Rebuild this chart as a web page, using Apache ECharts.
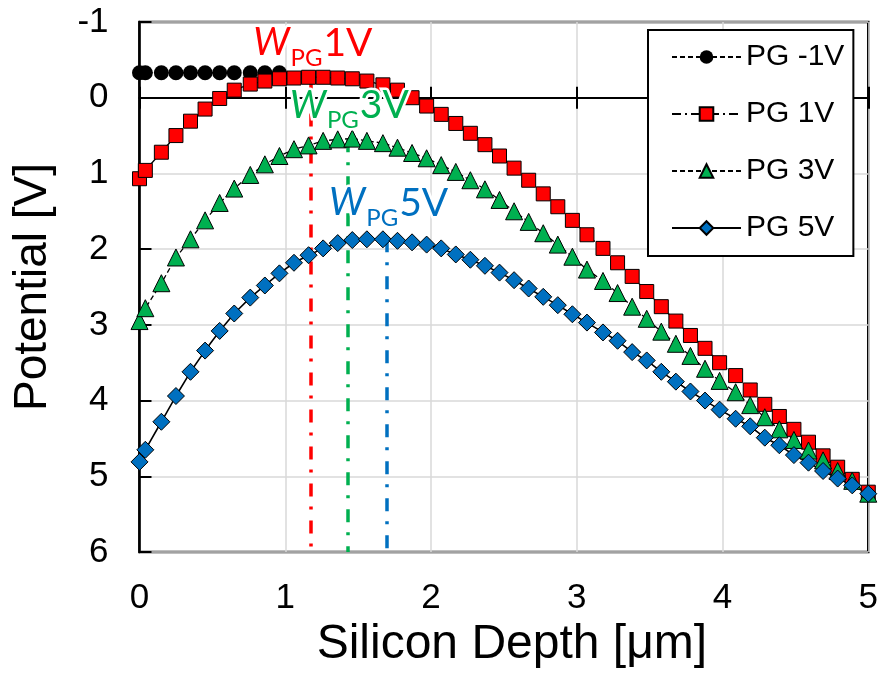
<!DOCTYPE html>
<html>
<head>
<meta charset="utf-8">
<script src="https://cdn.jsdelivr.net/npm/echarts@6/dist/echarts.min.js"></script>
<style>
  html, body { margin: 0; padding: 0; background: #fff; }
  #chart { width: 881px; height: 675px; }
</style>
</head>
<body>
<div id="chart"></div>
<script>
// ---- data ----
const depth = [0, 0.04, 0.15, 0.25, 0.35, 0.45, 0.55, 0.65, 0.76, 0.86, 0.96,
  1.06, 1.16, 1.26, 1.36, 1.46, 1.56, 1.67, 1.77, 1.87, 1.97,
  2.07, 2.17, 2.27, 2.37, 2.47, 2.57, 2.67, 2.77, 2.87, 2.97,
  3.07, 3.18, 3.28, 3.38, 3.48, 3.58, 3.68, 3.78, 3.88, 3.98,
  4.09, 4.19, 4.29, 4.39, 4.49, 4.59, 4.69, 4.79, 4.89, 5.0];

const pgMinus1V = [-0.33, -0.33, -0.33, -0.33, -0.33, -0.33, -0.33, -0.33, -0.33, -0.33, -0.33];

const pg1V = [1.07, 0.96, 0.72, 0.50, 0.31, 0.15, 0.01, -0.10, -0.18, -0.22, -0.25,
  -0.26, -0.27, -0.27, -0.26, -0.25, -0.22, -0.17, -0.10, 0.0, 0.11,
  0.22, 0.34, 0.47, 0.62, 0.77, 0.93, 1.09, 1.27, 1.44, 1.62,
  1.81, 1.99, 2.18, 2.36, 2.56, 2.76, 2.95, 3.14, 3.31, 3.50,
  3.67, 3.86, 4.05, 4.21, 4.38, 4.55, 4.73, 4.88, 5.04, 5.21];

const pg3V = [2.95, 2.78, 2.45, 2.11, 1.87, 1.62, 1.39, 1.20, 1.02, 0.88, 0.77,
  0.68, 0.63, 0.57, 0.55, 0.54, 0.57, 0.60, 0.66, 0.73, 0.80,
  0.89, 0.98, 1.09, 1.21, 1.35, 1.50, 1.64, 1.79, 1.94, 2.10,
  2.27, 2.42, 2.58, 2.76, 2.92, 3.09, 3.25, 3.41, 3.58, 3.74,
  3.89, 4.06, 4.22, 4.38, 4.52, 4.66, 4.79, 4.93, 5.06, 5.23];

const pg5V = [4.81, 4.65, 4.28, 3.94, 3.62, 3.34, 3.08, 2.85, 2.64, 2.48, 2.32,
  2.18, 2.08, 1.99, 1.92, 1.88, 1.87, 1.87, 1.89, 1.91, 1.94,
  1.99, 2.07, 2.14, 2.22, 2.31, 2.41, 2.52, 2.63, 2.74, 2.86,
  2.97, 3.10, 3.21, 3.36, 3.47, 3.62, 3.75, 3.88, 4.00, 4.12,
  4.24, 4.34, 4.49, 4.59, 4.72, 4.82, 4.93, 5.03, 5.12, 5.23];

const seriesNames = ['PG -1V', 'PG 1V', 'PG 3V', 'PG 5V'];
// W_PG markers: depth, potential at peak
const wpgDepth = [1.175, 1.43, 1.695];
const wpgPeak = [-0.28, 0.55, 1.87];
const wpgText = ['1V', '3V', '5V'];
const xTicks = [0, 1, 2, 3, 4, 5];
const yTicks = [-1, 0, 1, 2, 3, 4, 5, 6];

// ---- chart ----
const FONT = 'Liberation Sans, Arial, sans-serif';
const ANN = 'Lato, Noto Sans, sans-serif';
const colors = ['#000000', '#ff0000', '#00b050', '#0070c0'];

function pairs(vals) { return vals.map((v, i) => [depth[i], v]); }

function wLabel(color, num) {
  return {
    show: true, position: 'right', distance: 0,
    formatter: '{w|W}{s|PG}{n|' + num + '}',
    rich: {
      w: { fontFamily: ANN, fontStyle: 'italic', fontSize: 38, color: color, textBorderColor: '#fff', textBorderWidth: 5 },
      s: { fontFamily: ANN, fontSize: 24, color: color, padding: [30, 1, 0, 1], textBorderColor: '#fff', textBorderWidth: 5 },
      n: { fontFamily: ANN, fontSize: 39, color: color, textBorderColor: '#fff', textBorderWidth: 5 }
    }
  };
}

function vLine(i, color) {
  return {
    silent: true, symbol: ['none', 'none'], z: 3,
    label: { show: false },
    lineStyle: { color: color, width: 3.5, type: [13, 10, 3, 11] },
    emphasis: { disabled: true },
    data: [[{ coord: [wpgDepth[i], wpgPeak[i]] }, { coord: [wpgDepth[i], yTicks[yTicks.length - 1]] }]]
  };
}

const labelAnchors = [[0.78, -0.72], [1.03, 0.10], [1.30, 1.39]];

function wPoint(i, color) {
  return {
    silent: true, symbol: 'circle', symbolSize: 0, z: 20,
    label: wLabel(color, wpgText[i]),
    data: [{ coord: labelAnchors[i] }]
  };
}

const chart = echarts.init(document.getElementById('chart'), null, { renderer: 'canvas' });

const option = {
  animation: false,
  backgroundColor: '#fff',
  grid: {
    left: 139.5, right: 11.5, top: 22, bottom: 123,
    show: true, borderColor: '#000', borderWidth: 2.5, backgroundColor: 'transparent',
    containLabel: false
  },
  legend: {
    orient: 'vertical', left: 648, top: 30,
    data: seriesNames,
    itemWidth: 69, itemHeight: 17, itemGap: 27,
    padding: [12, 9, 13, 23],
    backgroundColor: '#fff', borderColor: '#000', borderWidth: 2,
    textStyle: { fontFamily: FONT, fontSize: 30, color: '#000' },
    selectedMode: false
  },
  xAxis: [
    {
      type: 'value', min: xTicks[0], max: xTicks[xTicks.length - 1], interval: 1,
      position: 'bottom',
      axisLine: { show: false, onZero: false },
      axisTick: { show: false },
      axisLabel: { fontFamily: FONT, fontSize: 35, color: '#000', margin: 29 },
      splitLine: { show: true, lineStyle: { color: '#d9d9d9', width: 1.5 } },
      name: 'Silicon Depth [μm]', nameLocation: 'middle', nameGap: 68,
      nameTextStyle: { fontFamily: FONT, fontSize: 48, color: '#000', padding: [0, 0, 0, 16] }
    },
    {
      type: 'value', min: xTicks[0], max: xTicks[xTicks.length - 1], interval: 1,
      position: 'top',
      axisLine: { show: true, onZero: true, onZeroAxisIndex: 0, lineStyle: { color: '#000', width: 2 } },
      axisTick: { show: true, inside: true, length: 11, lineStyle: { color: '#000', width: 2 } },
      axisLabel: { show: false },
      splitLine: { show: false }
    },
    {
      type: 'value', min: xTicks[0], max: xTicks[xTicks.length - 1], interval: 1,
      position: 'top',
      axisLine: { show: true, onZero: true, onZeroAxisIndex: 0, lineStyle: { color: '#000', width: 2 } },
      axisTick: { show: true, inside: false, length: 11, lineStyle: { color: '#000', width: 2 } },
      axisLabel: { show: false },
      splitLine: { show: false }
    }
  ],
  yAxis: {
    type: 'value', inverse: true, min: yTicks[0], max: yTicks[yTicks.length - 1], interval: 1,
    axisLine: { show: true, onZero: false, lineStyle: { color: '#000', width: 2.5 } },
    axisTick: { show: true, inside: true, length: 12, lineStyle: { color: '#000', width: 2 } },
    axisLabel: { fontFamily: FONT, fontSize: 35, color: '#000', margin: 31 },
    splitLine: { show: true, lineStyle: { color: '#d9d9d9', width: 1.5 } },
    name: 'Potential [V]', nameLocation: 'middle', nameGap: 83, nameRotate: 90,
    nameTextStyle: { fontFamily: FONT, fontSize: 46, color: '#000' }
  },
  series: [
    {
      name: seriesNames[0], type: 'line', clip: false,
      data: pairs(pgMinus1V),
      symbol: 'circle', symbolSize: 15,
      itemStyle: { color: '#000', borderColor: '#000', borderWidth: 0 },
      lineStyle: { color: '#000', width: 1.3, type: [5, 3] },
      emphasis: { disabled: true }
    },
    {
      name: seriesNames[1], type: 'line', clip: false,
      data: pairs(pg1V),
      symbol: 'rect', symbolSize: 14,
      itemStyle: { color: colors[1], borderColor: '#000', borderWidth: 1 },
      lineStyle: { color: '#000', width: 1.3, type: [9, 4, 2, 4] },
      emphasis: { disabled: true },
      markLine: vLine(0, colors[1]),
      markPoint: wPoint(0, colors[1])
    },
    {
      name: seriesNames[2], type: 'line', clip: false,
      data: pairs(pg3V),
      symbol: 'triangle', symbolSize: 17,
      itemStyle: { color: colors[2], borderColor: '#000', borderWidth: 1 },
      lineStyle: { color: '#000', width: 1.3, type: [5, 3] },
      emphasis: { disabled: true },
      markLine: vLine(1, colors[2]),
      markPoint: wPoint(1, colors[2])
    },
    {
      name: seriesNames[3], type: 'line', clip: false,
      data: pairs(pg5V),
      symbol: 'diamond', symbolSize: 17,
      itemStyle: { color: colors[3], borderColor: '#000', borderWidth: 1 },
      lineStyle: { color: '#000', width: 1.6, type: 'solid' },
      emphasis: { disabled: true },
      markLine: vLine(2, colors[3]),
      markPoint: wPoint(2, colors[3])
    }
  ]
};
chart.setOption(option);
</script>
</body>
</html>
